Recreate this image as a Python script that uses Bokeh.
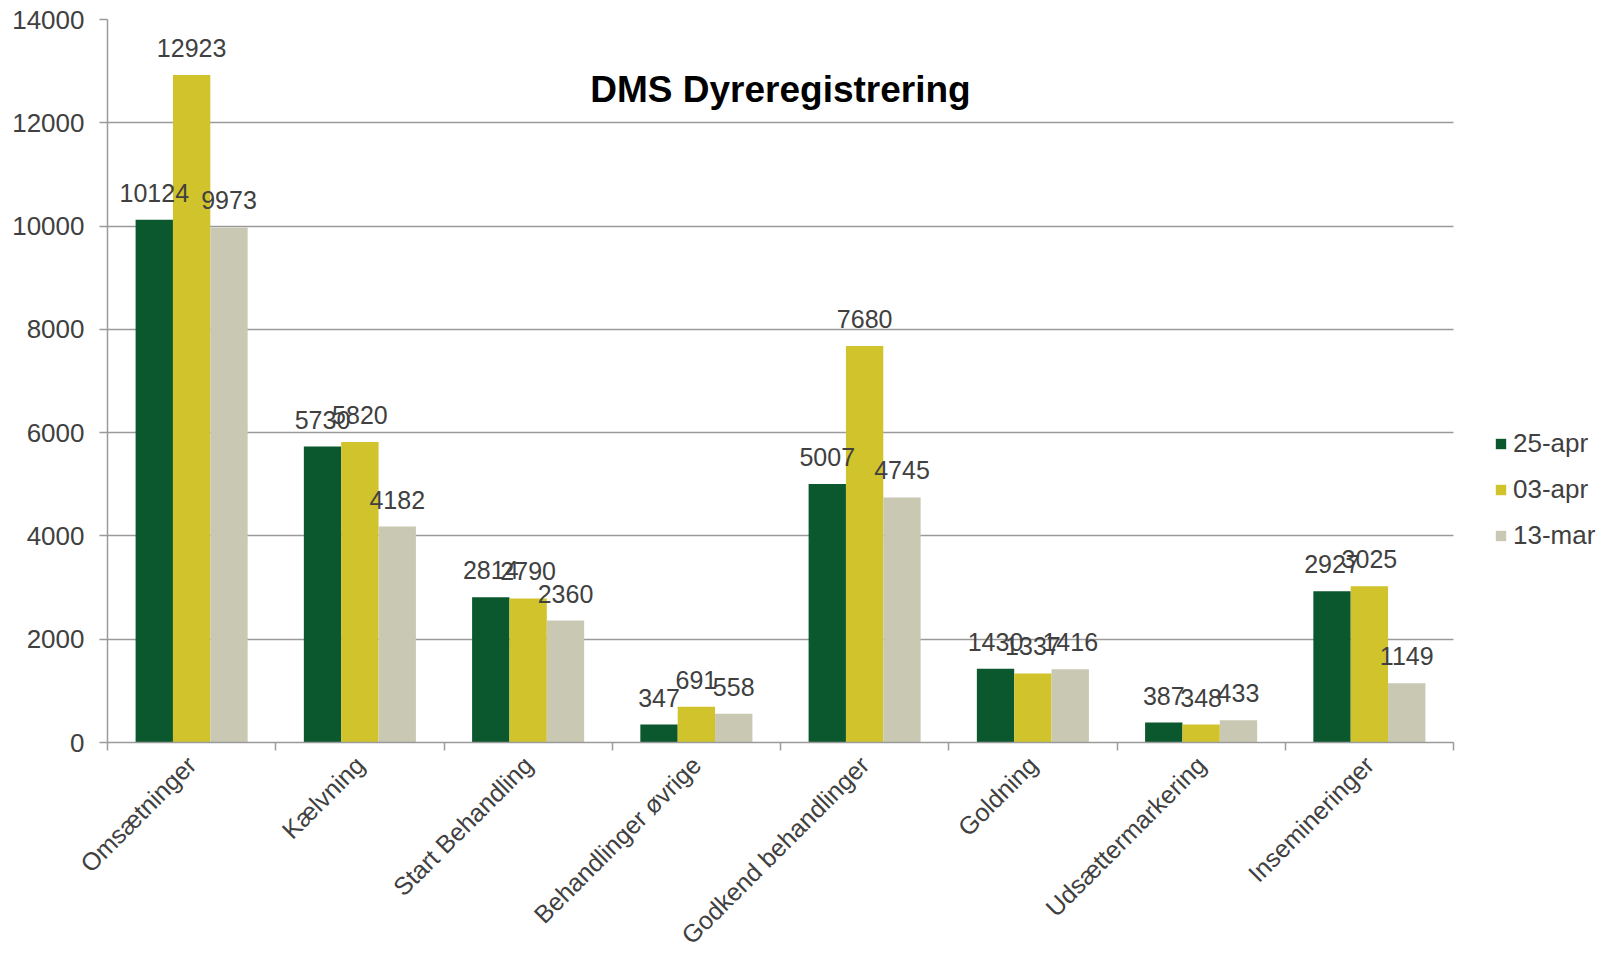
import math
from bokeh.plotting import figure
from bokeh.models import (ColumnDataSource, Range1d, LinearAxis, FixedTicker, Legend,
                          LegendItem, Label, Grid)
from bokeh.transform import dodge
from bokeh.core.properties import value
from bokeh.embed import file_html
from bokeh.resources import INLINE

# ---------------- data ----------------
categories = ["Omsætninger", "Kælvning", "Start Behandling", "Behandlinger øvrige",
              "Godkend behandlinger", "Goldning", "Udsættermarkering", "Insemineringer"]
series_names = ["25-apr", "03-apr", "13-mar"]
apr25 = [10124, 5730, 2814, 347, 5007, 1430, 387, 2927]
apr03 = [12923, 5820, 2790, 691, 7680, 1337, 348, 3025]
mar13 = [9973, 4182, 2360, 558, 4745, 1416, 433, 1149]
y_ticks = [0, 2000, 4000, 6000, 8000, 10000, 12000, 14000]
chart_title = "DMS Dyreregistrering"

# ---------------- style / layout ----------------
FONT = "Liberation Sans"
TXT = "#404040"
GRID = "#9a9a9a"
COLORS = ["#0B572E", "#D1C32B", "#C8C8B3"]
BAR_W = 0.222
OFFSETS = [-BAR_W, 0.0, BAR_W]

W, H = 1610, 963
BORDER_L, BORDER_T, BORDER_R, BORDER_B = 107, 19, 10, 221
CHART_PX = 1346                      # width in px of the category area
FRAME_PX = W - BORDER_L - BORDER_R   # plot frame width (room for legend at right)

n = len(categories)
centers = [i + 0.5 for i in range(n)]
boundaries = list(range(n + 1))
x_end = n * FRAME_PX / CHART_PX

src = ColumnDataSource(dict(
    xc=centers,
    s0=apr25, s1=apr03, s2=mar13,
    l0=[str(v) for v in apr25], l1=[str(v) for v in apr03], l2=[str(v) for v in mar13],
))

p = figure(x_range=Range1d(0, x_end), y_range=Range1d(y_ticks[0], y_ticks[-1]),
           width=W, height=H, output_backend="svg", toolbar_location=None,
           x_axis_location=None, y_axis_location=None,
           min_border_left=BORDER_L, min_border_top=BORDER_T,
           min_border_right=BORDER_R, min_border_bottom=BORDER_B)
p.outline_line_color = None
p.background_fill_color = "white"
p.border_fill_color = "white"
p.center = [r for r in p.center if not isinstance(r, Grid)]

# y axis
yaxis = LinearAxis(ticker=FixedTicker(ticks=y_ticks))
yaxis.axis_line_color = GRID
yaxis.axis_line_width = 1.5
yaxis.major_tick_line_color = GRID
yaxis.major_tick_line_width = 1.5
yaxis.major_tick_out = 8
yaxis.major_tick_in = 0
yaxis.minor_tick_line_color = None
yaxis.major_label_text_font = FONT
yaxis.major_label_text_font_size = "26px"
yaxis.major_label_text_color = TXT
yaxis.major_label_standoff = 15
p.add_layout(yaxis, "left")

# horizontal grid lines limited to the category area
if "cross_bounds" in Grid.properties():
    ygrid = Grid(dimension=1, ticker=yaxis.ticker, grid_line_color=GRID,
                 grid_line_width=1.5, cross_bounds=(0, n))
    p.add_layout(ygrid)
else:
    yaxis.major_tick_in = CHART_PX

# x axis: labels at category centres, tick marks at category boundaries
xaxis = LinearAxis(ticker=FixedTicker(ticks=centers, minor_ticks=boundaries), bounds=(0, n))
xaxis.major_label_overrides = {c: name for c, name in zip(centers, categories)}
xaxis.major_label_orientation = math.pi / 4
xaxis.axis_line_color = GRID
xaxis.axis_line_width = 1.5
xaxis.major_tick_line_color = None
xaxis.major_tick_out = 8
xaxis.major_tick_in = 0
xaxis.minor_tick_line_color = GRID
xaxis.minor_tick_line_width = 1.5
xaxis.minor_tick_out = 8
xaxis.minor_tick_in = 0
xaxis.major_label_standoff = 10
xaxis.major_label_text_font = FONT
xaxis.major_label_text_font_size = "25px"
xaxis.major_label_text_color = TXT
p.add_layout(xaxis, "below")

items = []
for i, name in enumerate(series_names):
    xd = dodge("xc", OFFSETS[i])
    r = p.vbar(x=xd, top="s%d" % i, bottom=0, width=BAR_W, source=src,
               fill_color=COLORS[i], line_color=None)
    items.append(LegendItem(label=name, renderers=[r]))

for i, name in enumerate(series_names):
    xd = dodge("xc", OFFSETS[i])
    p.text(x=xd, y="s%d" % i, text="l%d" % i, source=src, text_align="center",
           text_baseline="alphabetic", y_offset=-27, text_font=value(FONT),
           text_font_size="25px", text_color=TXT)

legend = Legend(items=items, location=(CHART_PX + 41, 191), orientation="vertical",
                glyph_width=13, glyph_height=13, label_standoff=6, spacing=15,
                padding=0, margin=0, border_line_color=None, background_fill_alpha=0,
                label_text_font=FONT, label_text_font_size="26px", label_text_color=TXT)
p.add_layout(legend)

p.add_layout(Label(x=n / 2, y=12650, text=chart_title, text_align="center",
                   text_baseline="alphabetic", text_font=FONT, text_font_size="37px",
                   text_font_style="bold", text_color="black"))

open("out.html", "w").write(file_html(p, INLINE))
